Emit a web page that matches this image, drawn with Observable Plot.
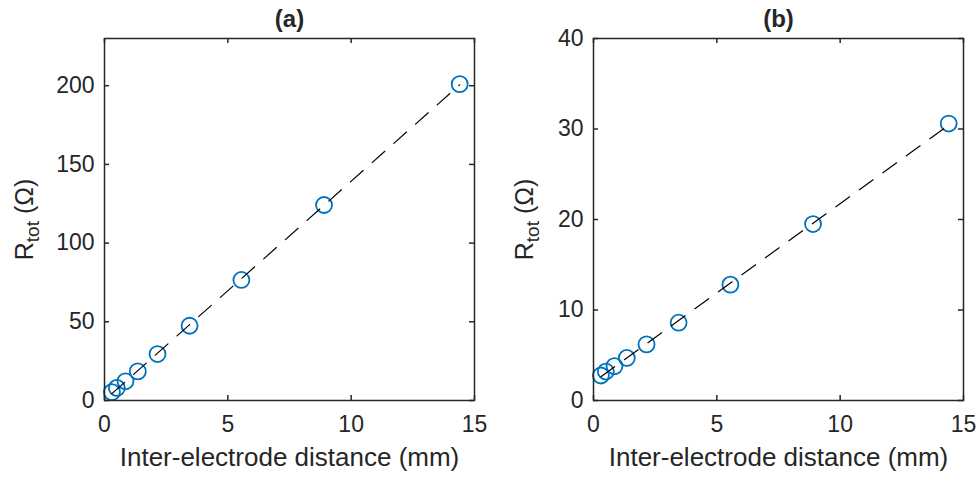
<!DOCTYPE html>
<html>
<head>
<meta charset="utf-8">
<script src="https://cdn.jsdelivr.net/npm/d3@7"></script>
<script src="https://cdn.jsdelivr.net/npm/@observablehq/plot@0.6"></script>
<style>
  body { margin: 0; background: white; }
  #wrap { display: flex; width: 978px; height: 477px; }
</style>
</head>
<body>
<div id="wrap"></div>
<script>
// Inter-electrode distance (mm)
const distance = [0.3, 0.5, 0.85, 1.35, 2.15, 3.45, 5.55, 8.9, 14.4];
// Panel (a) total resistance (Ω)
const rtotA = [5.3, 8.0, 12.2, 18.5, 29.5, 47.5, 76.6, 124.2, 201.0];
// Panel (b) total resistance (Ω)
const rtotB = [2.76, 3.2, 3.8, 4.7, 6.2, 8.6, 12.8, 19.5, 30.6];

const xTicks = [0, 5, 10, 15];
const yTicksA = [0, 50, 100, 150, 200];
const yTicksB = [0, 10, 20, 30, 40];
const titles = ["(a)", "(b)"];
const xLabel = "Inter-electrode distance (mm)";
const yLabelPlaceholder = "RTOT_LABEL";

const FONT = "'Liberation Sans', Arial, Helvetica, sans-serif";
const INK = "#262626";
const BLUE = "#0072BD";

const W = 489, H = 477, ML = 104, MR = 15, MT = 38, MB = 77;
const FW = W - ML - MR, FH = H - MT - MB, TL = 5;

function panel(yVals, yDomain, yTicks, title, yLabelDx) {
  const data = distance.map((d, i) => ({x: d, y: yVals[i]}));
  const svg = Plot.plot({
    width: W,
    height: H,
    marginLeft: ML,
    marginRight: MR,
    marginTop: MT,
    marginBottom: MB,
    style: {fontFamily: FONT, fontSize: "23px", color: INK, background: "white", overflow: "visible"},
    x: {domain: [0, 15]},
    y: {domain: yDomain},
    marks: [
      Plot.dot(data, {x: "x", y: "y", r: 8, stroke: BLUE, strokeWidth: 1.8, fill: "none"}),
      Plot.linearRegressionY(data, {x: "x", y: "y", ci: 0, stroke: "black", strokeWidth: 1.2, strokeDasharray: "17,12"}),
      Plot.axisX({anchor: "bottom", ticks: xTicks, tickSize: 0, tickPadding: 15, label: null, fontSize: 23}),
      Plot.axisY({anchor: "left", ticks: yTicks, tickSize: 0, tickPadding: 10, label: null, fontSize: 23}),
      Plot.frame({stroke: INK, strokeWidth: 1.5}),
      // inward ticks on all four sides
      Plot.tickX(xTicks, {x: d => d, insetTop: FH - TL, stroke: INK, strokeWidth: 1.5}),
      Plot.tickX(xTicks, {x: d => d, insetBottom: FH - TL, stroke: INK, strokeWidth: 1.5}),
      Plot.tickY(yTicks, {y: d => d, insetRight: FW - TL, stroke: INK, strokeWidth: 1.5}),
      Plot.tickY(yTicks, {y: d => d, insetLeft: FW - TL, stroke: INK, strokeWidth: 1.5}),
      Plot.text([title], {frameAnchor: "top", dy: -19, lineAnchor: "middle", fontWeight: "bold", fontSize: 24, fill: INK}),
      Plot.text([xLabel], {frameAnchor: "bottom", dy: 57, lineAnchor: "middle", fontSize: 26, fill: INK}),
      Plot.text([yLabelPlaceholder], {frameAnchor: "left", dx: yLabelDx, rotate: -90, textAnchor: "middle", lineAnchor: "middle", fontSize: 25, fill: INK})
    ]
  });
  d3.select(svg).selectAll("text")
    .filter(function() { return this.textContent === yLabelPlaceholder; })
    .each(function() {
      const t = d3.select(this);
      t.text(null);
      t.append("tspan").text("R");
      t.append("tspan").attr("font-size", "19px").attr("dy", "6").text("tot");
      t.append("tspan").attr("dy", "-6").text(" (Ω)");
    });
  return svg;
}

const wrap = document.getElementById("wrap");
wrap.appendChild(panel(rtotA, [0, 230], yTicksA, titles[0], -80));
wrap.appendChild(panel(rtotB, [0, 40], yTicksB, titles[1], -69));
</script>
</body>
</html>
